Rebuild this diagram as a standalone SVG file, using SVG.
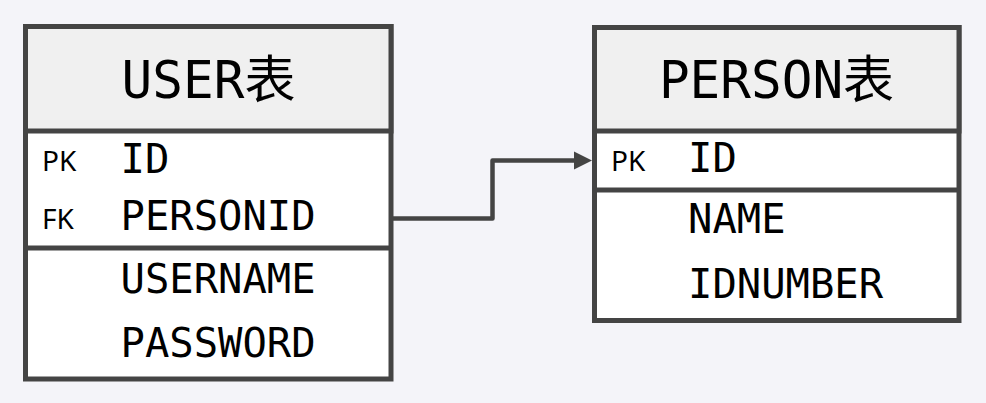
<svg xmlns="http://www.w3.org/2000/svg" width="986" height="403" viewBox="0 0 986 403">
<style>
.frame{fill:#fff;stroke:#444;stroke-width:5}
.head{fill:#f0f0f0;stroke:#444;stroke-width:5}
.sep{stroke:#444;stroke-width:5}
.title{font-family:"DejaVu Sans Mono","Noto Sans CJK SC",monospace;font-size:51px;fill:#000;text-anchor:middle}
.fld{font-family:"DejaVu Sans Mono",monospace;font-size:40.5px;fill:#000}
.key{font-family:"Noto Sans",sans-serif;font-size:28px;fill:#000}
.conn{fill:none;stroke:#444;stroke-width:4.5;stroke-linejoin:round}
.head-arrow{fill:#444}
</style>
<rect width="986" height="403" fill="#f4f4f9"/>
<g id="user">
<rect class="frame" x="25.5" y="26.5" width="365.5" height="352.5"/>
<rect class="head" x="25.5" y="26.5" width="365.5" height="104.5"/>
<line class="sep" x1="25.5" y1="248" x2="391" y2="248"/>
<text class="title" x="208.5" y="98">USER表</text>
<text class="key" x="42" y="170.5">PK</text>
<text class="fld" x="120.5" y="172.5">ID</text>
<text class="key" x="42" y="229">FK</text>
<text class="fld" x="120.5" y="230">PERSONID</text>
<text class="fld" x="120.5" y="293">USERNAME</text>
<text class="fld" x="120.5" y="357">PASSWORD</text>
</g>
<g id="person">
<rect class="frame" x="594.5" y="27.5" width="364.5" height="293"/>
<rect class="head" x="594.5" y="27.5" width="364.5" height="103.5"/>
<line class="sep" x1="594.5" y1="190" x2="959" y2="190"/>
<text class="title" x="776.5" y="98">PERSON表</text>
<text class="key" x="611" y="170.5">PK</text>
<text class="fld" x="688" y="172">ID</text>
<text class="fld" x="688" y="233">NAME</text>
<text class="fld" x="688" y="298">IDNUMBER</text>
</g>
<g id="connectors">
<path class="conn" d="M393,218.5 L492.5,218.5 L492.5,160.5 L578,160.5"/>
<polygon class="head-arrow" points="574,151.5 592,160.5 574,169.5"/>
</g>
</svg>
